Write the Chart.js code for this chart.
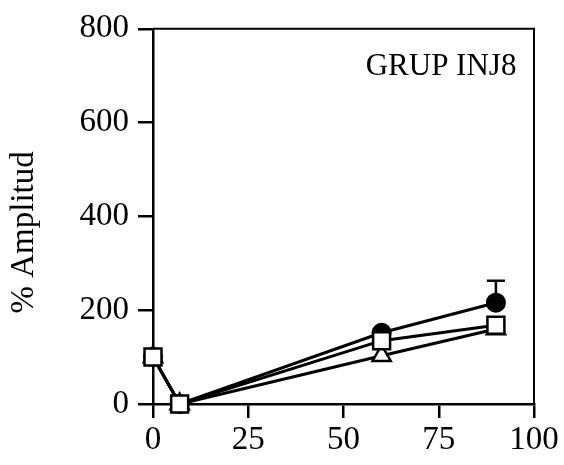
<!DOCTYPE html>
<html>
<head>
<meta charset="utf-8">
<script src="https://cdn.jsdelivr.net/npm/chart.js@4/dist/chart.umd.min.js"></script>
<style>
  html, body { margin: 0; padding: 0; background: #fff; }
  #wrap { width: 564px; height: 465px; }
</style>
</head>
<body>
<div id="wrap"><canvas id="ampChart"></canvas></div>
<script>
// values
const xVals = [0, 7, 60, 90];
const circleVals = [100, 0, 152, 216];
const squareVals = [100, 0, 135, 168];
const triangleVals = [100, 0, 103, 160];
const circleErrUp = [null, null, null, 263];
const xTicks = [0, 25, 50, 75, 100];
const yTicks = [0, 200, 400, 600, 800];
const groupLabel = 'GRUP INJ8';
const yTitle = '% Amplitud';

function pts(vals) {
    return xVals.map((x, i) => ({ x: x, y: vals[i] }));
}

// thin frame on top and right of the plot
const frame = {
    id: 'frame',
    beforeDatasetsDraw(chart) {
        const a = chart.chartArea, ctx = chart.ctx;
        ctx.save();
        ctx.strokeStyle = '#000';
        ctx.lineWidth = 2;
        ctx.beginPath();
        ctx.moveTo(a.left, a.top);
        ctx.lineTo(a.right, a.top);
        ctx.lineTo(a.right, a.bottom);
        ctx.stroke();
        ctx.restore();
    }
};

// upper error bar for the filled circles
const errorBars = {
    id: 'errorBars',
    afterDatasetsDraw(chart) {
        const ctx = chart.ctx;
        const xs = chart.scales.x, ys = chart.scales.y;
        ctx.save();
        ctx.strokeStyle = '#000';
        ctx.lineWidth = 2.5;
        circleErrUp.forEach((e, i) => {
            if (e == null) return;
            const px = xs.getPixelForValue(xVals[i]);
            const py0 = ys.getPixelForValue(circleVals[i]);
            const py1 = ys.getPixelForValue(e);
            ctx.beginPath();
            ctx.moveTo(px, py0);
            ctx.lineTo(px, py1);
            ctx.moveTo(px - 9, py1);
            ctx.lineTo(px + 9, py1);
            ctx.stroke();
        });
        ctx.restore();
    }
};

// group name inside the plot, and the y title
const texts = {
    id: 'texts',
    afterDraw(chart) {
        const ctx = chart.ctx, a = chart.chartArea;
        ctx.save();
        ctx.fillStyle = '#000';
        ctx.textAlign = 'center';
        ctx.textBaseline = 'middle';
        ctx.font = '31px "Liberation Serif"';
        ctx.fillText(groupLabel, chart.scales.x.getPixelForValue(75.6), chart.scales.y.getPixelForValue(718));
        ctx.translate(24, (a.top + a.bottom) / 2 + 16);
        ctx.rotate(-Math.PI / 2);
        ctx.font = '33px "Liberation Serif"';
        ctx.fillText(yTitle, 0, 0);
        ctx.restore();
    }
};

const axisFont = { family: 'Liberation Serif', size: 33 };

new Chart(document.getElementById('ampChart').getContext('2d'), {
    type: 'line',
    data: {
        datasets: [{
            label: 'square',
            data: pts(squareVals),
            borderColor: '#000',
            borderWidth: 3,
            pointStyle: 'rect',
            pointRadius: 12,
            pointBorderWidth: 2.5,
            pointBackgroundColor: '#fff',
            pointBorderColor: '#000',
            clip: false
        }, {
            label: 'circle',
            data: pts(circleVals),
            borderColor: '#000',
            borderWidth: 3,
            pointStyle: 'circle',
            pointRadius: 9,
            pointBorderWidth: 2,
            pointBackgroundColor: '#000',
            pointBorderColor: '#000',
            clip: false
        }, {
            label: 'triangle',
            data: pts(triangleVals),
            borderColor: '#000',
            borderWidth: 3,
            pointStyle: 'triangle',
            pointRadius: 10.5,
            pointBorderWidth: 2.5,
            pointBackgroundColor: '#fff',
            pointBorderColor: '#000',
            clip: false
        }]
    },
    options: {
        responsive: true,
        maintainAspectRatio: false,
        animation: false,
        layout: { padding: { left: 0, top: 25, right: 30, bottom: 0 } },
        plugins: { legend: { display: false }, tooltip: { enabled: false } },
        scales: {
            x: {
                type: 'linear',
                min: 0,
                max: 100,
                afterFit(scale) { scale.height = 61; },
                afterBuildTicks(scale) { scale.ticks = xTicks.map(v => ({ value: v })); },
                border: { display: true, color: '#000', width: 2.5 },
                grid: { drawOnChartArea: false, drawTicks: true, tickLength: 14, color: '#000', lineWidth: 2.5 },
                ticks: { color: '#000', font: axisFont, padding: 3, maxRotation: 0 }
            },
            y: {
                min: 0,
                max: 800,
                afterFit(scale) { scale.width = 153; },
                afterBuildTicks(scale) { scale.ticks = yTicks.map(v => ({ value: v })); },
                border: { display: true, color: '#000', width: 2.5 },
                grid: { drawOnChartArea: false, drawTicks: true, tickLength: 15, color: '#000', lineWidth: 2.5 },
                ticks: { color: '#000', font: axisFont, padding: 9 }
            }
        }
    },
    plugins: [frame, errorBars, texts]
});
</script>
</body>
</html>
